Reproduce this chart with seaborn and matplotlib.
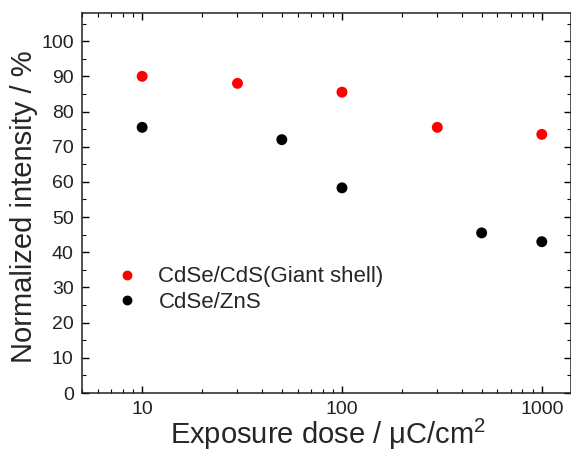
import seaborn as sns
import matplotlib.pyplot as plt
import pandas as pd
from matplotlib.ticker import MultipleLocator, LogLocator, NullFormatter

width, height, my_dpi = 571, 451, 100

giant_dose = [10, 30, 100, 300, 1000]
giant_int = [90, 88, 85.5, 75.5, 73.5]
zns_dose = [10, 50, 100, 500, 1000]
zns_int = [75.5, 72, 58.3, 45.5, 43]
labels = ['CdSe/CdS(Giant shell)', 'CdSe/ZnS']

df = pd.DataFrame({
    'dose': giant_dose + zns_dose,
    'intensity': giant_int + zns_int,
    'sample': [labels[0]] * len(giant_dose) + [labels[1]] * len(zns_dose),
})

sns.set_style('ticks')
plt.rcParams['font.family'] = ['Liberation Sans', 'DejaVu Sans']
plt.rcParams['mathtext.fontset'] = 'custom'
plt.rcParams['mathtext.rm'] = 'Liberation Sans'
plt.rcParams['mathtext.it'] = 'Liberation Sans'

fig = plt.figure(figsize=(width / my_dpi, height / my_dpi), dpi=my_dpi)
ax = fig.add_axes([0.1436, 0.1286, 0.8564, 0.8426])
sns.scatterplot(data=df, x='dose', y='intensity', hue='sample',
                palette=['#ff0000', '#000000'], s=62, linewidth=0, ax=ax)
ax.set_xscale('log')
ax.set_xlim(5, 1400)
ax.set_ylim(0, 108)
ax.yaxis.set_major_locator(MultipleLocator(10))
ax.yaxis.set_minor_locator(MultipleLocator(5))
ax.xaxis.set_minor_locator(LogLocator(base=10, subs=range(2, 10)))
ax.xaxis.set_minor_formatter(NullFormatter())
ax.set_xticks([10, 100, 1000])
ax.set_xticklabels(['10', '100', '1000'])
ax.tick_params(which='both', direction='in', top=True, right=True,
               labelsize=14, color='black', labelcolor='#222222')
ax.tick_params(which='major', length=5, width=1, pad=6)
ax.tick_params(which='minor', length=3, width=0.8)
for sp in ax.spines.values():
    sp.set_visible(True)
    sp.set_linewidth(1.1)
    sp.set_color('#222222')
ax.set_xlabel('Exposure dose / \u03bcC/cm$^{2}$', fontsize=21)
ax.xaxis.set_label_coords(0.503, -0.134, transform=ax.transAxes)
ax.xaxis.label.set_va('baseline')
ax.set_ylabel('Normalized intensity / %', fontsize=21)
ax.yaxis.set_label_coords(-0.119, 0.491, transform=ax.transAxes)
ax.yaxis.label.set_va('center')
leg = ax.legend(loc='center left', bbox_to_anchor=(0.029, 0.272), frameon=False,
                fontsize=16, handletextpad=0.4, labelspacing=0.2,
                markerscale=0.9, borderaxespad=0)
plt.savefig('out.png', dpi=my_dpi)
